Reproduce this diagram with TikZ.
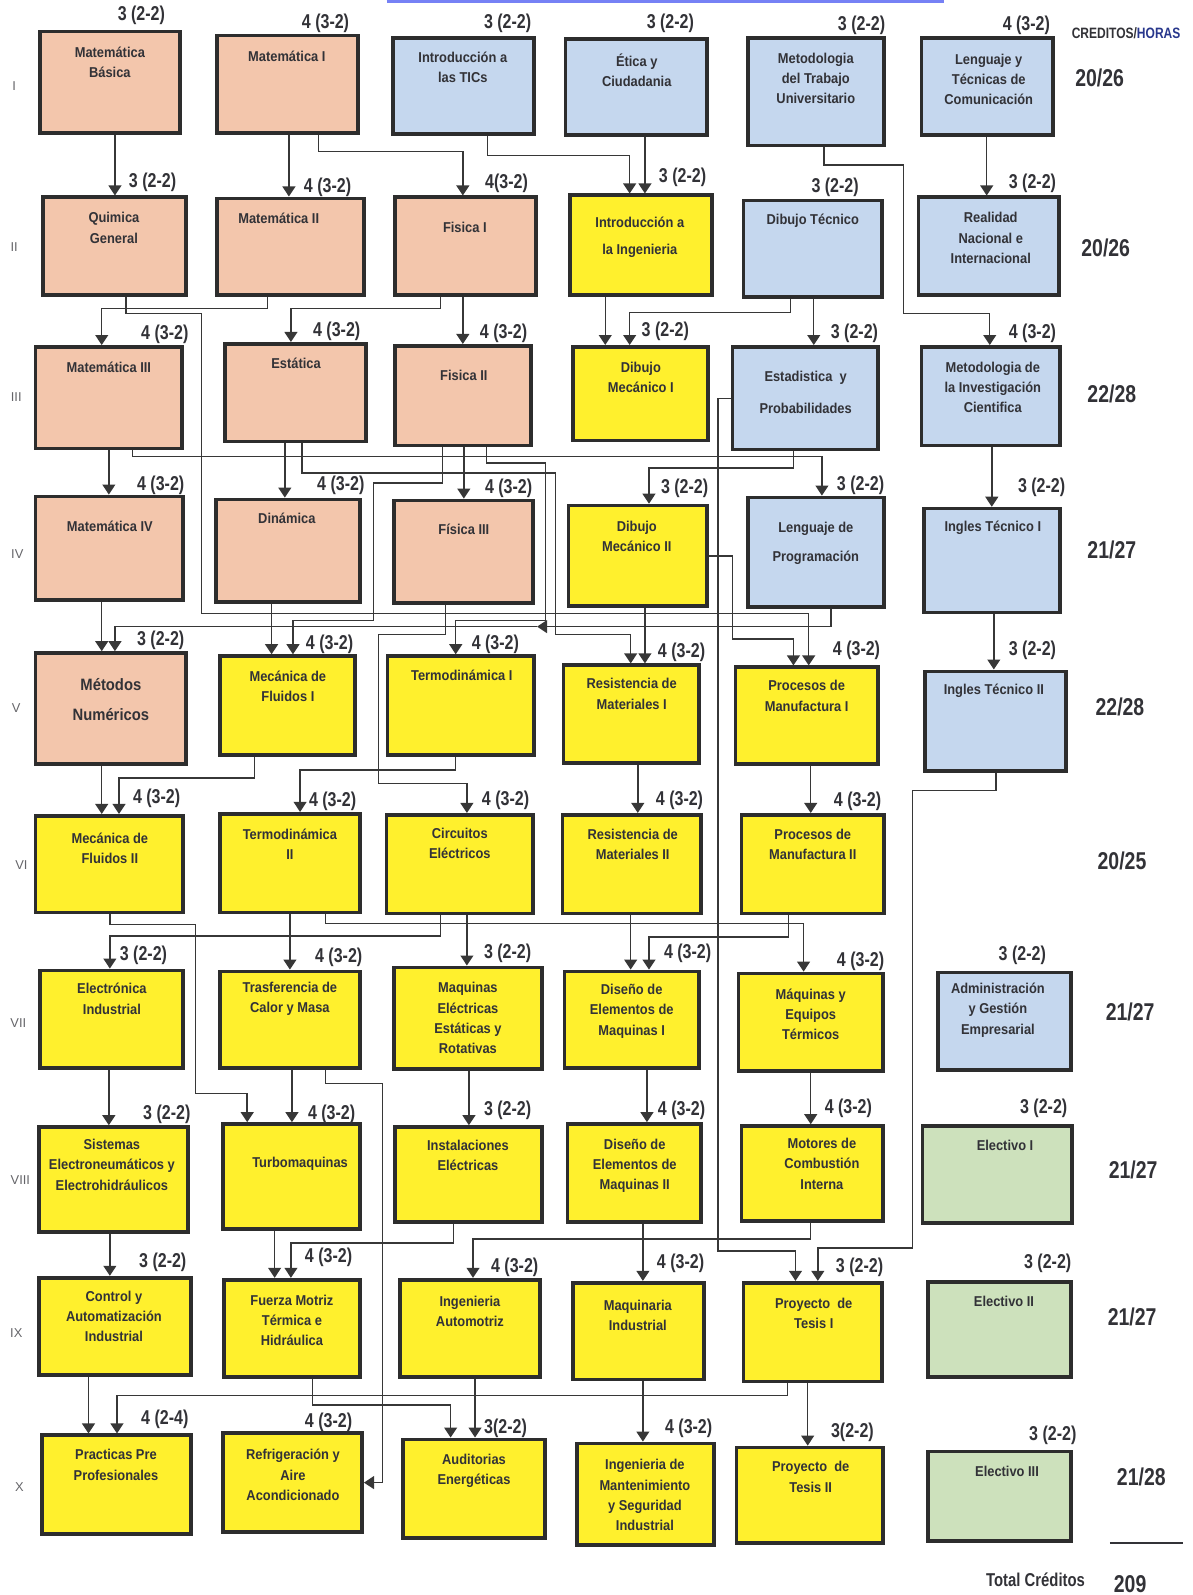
\documentclass[tikz,border=0pt]{standalone}
\usepackage{fontspec}
\setmainfont{Liberation Sans}
\newfontfamily\narrowa[FakeStretch=0.9]{Liberation Sans}
\newfontfamily\narrowb[FakeStretch=0.8]{Liberation Sans}
\usetikzlibrary{arrows.meta,fit}
\definecolor{fillpeach}{RGB}{243,198,172}
\definecolor{fillblue}{RGB}{197,215,238}
\definecolor{fillyellow}{RGB}{255,240,45}
\definecolor{fillgreen}{RGB}{205,225,188}
\definecolor{boxline}{RGB}{45,45,45}
\definecolor{wirecolor}{RGB}{55,55,55}
\definecolor{ink}{RGB}{50,50,55}
\definecolor{horasblue}{RGB}{40,55,140}
\tikzstyle{course} = [rectangle, draw=boxline, line width=2.6pt, inner sep=0pt]
\tikzstyle{basic} = [course, fill=fillpeach]
\tikzstyle{general} = [course, fill=fillblue]
\tikzstyle{speciality} = [course, fill=fillyellow]
\tikzstyle{elective} = [course, fill=fillgreen]
\tikzstyle{subjtext} = [text=ink, align=center, inner sep=0pt, font=\narrowa\bfseries\fontsize{10}{14.2}\selectfont]
\tikzstyle{credtext} = [text=ink, inner sep=0pt, font=\narrowb\bfseries\fontsize{14}{16}\selectfont]
\tikzstyle{sumtext} = [text=ink, inner sep=0pt, font=\narrowb\bfseries\fontsize{17}{20}\selectfont]
\tikzstyle{semtext} = [text=ink!75, inner sep=0pt, font=\fontsize{9}{10}\selectfont]
\tikzstyle{arrow} = [draw=wirecolor, line width=1pt, -{Triangle[width=9pt,length=7pt]}]
\tikzstyle{wire} = [draw=wirecolor, line width=1pt]

\begin{document}
\begin{tikzpicture}[x=0.025cm, y=-0.025cm]
    \useasboundingbox (0,0) rectangle (1172,1568);
    \draw [draw=fillblue!60!blue, line width=1.5pt] (380,1.5) -- (928,1.5);

    % Semestre I
    \node [basic, fit={(39,31) (177,131)}] (mb) {};
    \node [subjtext] (mbt) at (108,61) {Matemática\\Básica};
    \node [credtext] (mbc) at (139,15) {3 (2-2)};
    \node [basic, fit={(213,35) (352,131)}] (mi) {};
    \node [subjtext] (mit) at (282,55) {Matemática I};
    \node [credtext] (mic1) at (320,23) {4 (3-2)};
    \node [general, fit={(386,37) (525,132)}] (tics) {};
    \node [subjtext] (ticst) at (455,66) {Introducción a\\las TICs};
    \node [credtext] (ticsc) at (499,23) {3 (2-2)};
    \node [general, fit={(556,38) (695,133)}] (etica) {};
    \node [subjtext] (eticat) at (626,69) {Ética y\\Ciudadania};
    \node [credtext] (eticac) at (659,23) {3 (2-2)};
    \node [general, fit={(735,37) (869,143)}] (mtu) {};
    \node [subjtext] (mtut) at (802,77) {Metodologia\\del Trabajo\\Universitario};
    \node [credtext] (mtuc) at (847,25) {3 (2-2)};
    \node [general, fit={(906,37) (1035,133)}] (ltc) {};
    \node [subjtext] (ltct) at (972,78) {Lenguaje y\\Técnicas de\\Comunicación};
    \node [credtext] (ltcc) at (1009,25) {4 (3-2)};

    % Semestre II
    \node [basic, fit={(42,194) (183,290)}] (qg) {};
    \node [subjtext] (qgt) at (112,224) {Quimica\\General};
    \node [credtext] (qgc) at (150,179) {3 (2-2)};
    \node [basic, fit={(213,195) (358,290)}] (mii) {};
    \node [subjtext] (miit) at (274,215) {Matemática II};
    \node [credtext] (miic) at (322,184) {4 (3-2)};
    \node [basic, fit={(388,194) (527,290)}] (fi) {};
    \node [subjtext] (fit) at (457,224) {Fisica I};
    \node [credtext] (fic) at (498,180) {4(3-2)};
    \node [speciality, fit={(560,192) (700,290)}] (ii) {};
    \node [subjtext] (iit) at (629,233) {Introducción a\\[5pt]la Ingenieria};
    \node [credtext] (iic) at (671,174) {3 (2-2)};
    \node [general, fit={(731,197) (867,292)}] (dt) {};
    \node [subjtext] (dtt) at (799,217) {Dibujo Técnico};
    \node [credtext] (dtc) at (821,184) {3 (2-2)};
    \node [general, fit={(903,194) (1041,290)}] (rni) {};
    \node [subjtext] (rnit) at (974,234) {Realidad\\Nacional e\\Internacional};
    \node [credtext] (rnic) at (1015,180) {3 (2-2)};

    % Semestre III
    \node [basic, fit={(35,341) (179,441)}] (miii) {};
    \node [subjtext] (miiit) at (107,361) {Matemática III};
    \node [credtext] (miiic) at (162,329) {4 (3-2)};
    \node [basic, fit={(221,338) (360,434)}] (est) {};
    \node [subjtext] (estt) at (291,357) {Estática};
    \node [credtext] (estc) at (331,326) {4 (3-2)};
    \node [basic, fit={(388,340) (522,438)}] (fii) {};
    \node [subjtext] (fiit) at (456,369) {Fisica II};
    \node [credtext] (fiic) at (495,328) {4 (3-2)};
    \node [speciality, fit={(563,341) (696,433)}] (dm1) {};
    \node [subjtext] (dm1t) at (630,371) {Dibujo\\Mecánico I};
    \node [credtext] (dm1c) at (654,326) {3 (2-2)};
    \node [general, fit={(720,341) (863,442)}] (eyp) {};
    \node [subjtext] (eypt) at (792,386) {Estadistica\ \ y\\[8pt]Probabilidades};
    \node [credtext] (eypc) at (840,328) {3 (2-2)};
    \node [general, fit={(906,341) (1042,438)}] (mic) {};
    \node [subjtext] (mict) at (976,381) {Metodologia de\\la Investigación\\Cientifica};
    \node [credtext] (micc) at (1015,328) {4 (3-2)};

    % Semestre IV
    \node [basic, fit={(35,488) (180,590)}] (miv) {};
    \node [subjtext] (mivt) at (108,517) {Matemática IV};
    \node [credtext] (mivc) at (158,477) {4 (3-2)};
    \node [basic, fit={(212,491) (354,592)}] (din) {};
    \node [subjtext] (dint) at (282,510) {Dinámica};
    \node [credtext] (dinc) at (335,477) {4 (3-2)};
    \node [basic, fit={(387,492) (524,593)}] (fiii) {};
    \node [subjtext] (fiiit) at (456,520) {Física III};
    \node [credtext] (fiiic) at (500,480) {4 (3-2)};
    \node [speciality, fit={(559,497) (695,596)}] (dm2) {};
    \node [subjtext] (dm2t) at (626,527) {Dibujo\\Mecánico II};
    \node [credtext] (dm2c) at (673,480) {3 (2-2)};
    \node [general, fit={(735,489) (869,597)}] (lp) {};
    \node [subjtext] (lpt) at (802,534) {Lenguaje de\\[6pt]Programación};
    \node [credtext] (lpc) at (846,477) {3 (2-2)};
    \node [general, fit={(908,500) (1042,602)}] (it1) {};
    \node [subjtext] (it1t) at (976,519) {Ingles Técnico I};
    \node [credtext] (it1c) at (1024,479) {3 (2-2)};

    % Semestre V
    \node [basic, fit={(35,642) (183,751)}] (mn) {};
    \node [subjtext, font=\narrowa\bfseries\fontsize{11.5}{15}\selectfont] (mnt) at (109,688) {Métodos\\[6pt]Numéricos};
    \node [credtext] (mnc) at (158,629) {3 (2-2)};
    \node [speciality, fit={(216,645) (349,742)}] (mf1) {};
    \node [subjtext] (mf1t) at (283,675) {Mecánica de\\Fluidos I};
    \node [credtext] (mf1c) at (324,633) {4 (3-2)};
    \node [speciality, fit={(381,645) (525,742)}] (ti) {};
    \node [subjtext] (tit) at (454,664) {Termodinámica I};
    \node [credtext] (tic) at (487,633) {4 (3-2)};
    \node [speciality, fit={(554,654) (687,750)}] (rm1) {};
    \node [subjtext] (rm1t) at (621,682) {Resistencia de\\Materiales I};
    \node [credtext] (rm1c) at (670,641) {4 (3-2)};
    \node [speciality, fit={(723,656) (863,751)}] (pm1) {};
    \node [subjtext] (pm1t) at (793,684) {Procesos de\\Manufactura I};
    \node [credtext] (pm1c) at (842,639) {4 (3-2)};
    \node [general, fit={(909,660) (1048,758)}] (it2) {};
    \node [subjtext] (it2t) at (977,679) {Ingles Técnico II};
    \node [credtext] (it2c) at (1015,639) {3 (2-2)};

    % Semestre VI
    \node [speciality, fit={(35,802) (180,897)}] (mf2) {};
    \node [subjtext] (mf2t) at (108,834) {Mecánica de\\Fluidos II};
    \node [credtext] (mf2c) at (154,785) {4 (3-2)};
    \node [speciality, fit={(216,800) (354,897)}] (tii) {};
    \node [subjtext] (tiit) at (285,830) {Termodinámica\\II};
    \node [credtext] (tiic) at (327,788) {4 (3-2)};
    \node [speciality, fit={(380,801) (524,898)}] (ce) {};
    \node [subjtext] (cet) at (452,829) {Circuitos\\Eléctricos};
    \node [credtext] (cec) at (497,787) {4 (3-2)};
    \node [speciality, fit={(553,801) (689,898)}] (rm2) {};
    \node [subjtext] (rm2t) at (622,830) {Resistencia de\\Materiales II};
    \node [credtext] (rm2c) at (668,787) {4 (3-2)};
    \node [speciality, fit={(729,801) (869,898)}] (pm2) {};
    \node [subjtext] (pm2t) at (799,830) {Procesos de\\Manufactura II};
    \node [credtext] (pm2c) at (843,788) {4 (3-2)};

    % Semestre VII
    \node [speciality, fit={(39,954) (180,1050)}] (ei) {};
    \node [subjtext] (eit) at (110,982) {Electrónica\\Industrial};
    \node [credtext] (eic) at (141,939) {3 (2-2)};
    \node [speciality, fit={(216,955) (354,1050)}] (tcm) {};
    \node [subjtext] (tcmt) at (285,982) {Trasferencia de\\Calor y Masa};
    \node [credtext] (tcmc) at (333,941) {4 (3-2)};
    \node [speciality, fit={(387,951) (533,1051)}] (meer) {};
    \node [subjtext] (meert) at (460,1001) {Maquinas\\Eléctricas\\Estáticas y\\Rotativas};
    \node [credtext] (meerc) at (499,937) {3 (2-2)};
    \node [speciality, fit={(555,955) (687,1050)}] (dem1) {};
    \node [subjtext] (dem1t) at (621,994) {Diseño de\\Elementos de\\Maquinas I};
    \node [credtext] (dem1c) at (676,937) {4 (3-2)};
    \node [speciality, fit={(726,957) (868,1053)}] (met) {};
    \node [subjtext] (mett) at (797,997) {Máquinas y\\Equipos\\Térmicos};
    \node [credtext] (metc) at (846,945) {4 (3-2)};
    \node [general, fit={(922,956) (1053,1052)}] (age) {};
    \node [subjtext] (aget) at (981,993) {Administración\\y Gestión\\Empresarial};
    \node [credtext] (agec) at (1005,939) {3 (2-2)};

    % Semestre VIII
    \node [speciality, fit={(38,1108) (185,1211)}] (see) {};
    \node [subjtext] (seet) at (110,1145) {Sistemas\\Electroneumáticos y\\Electrohidráulicos};
    \node [credtext] (seec) at (164,1095) {3 (2-2)};
    \node [speciality, fit={(219,1105) (354,1208)}] (tm) {};
    \node [subjtext] (tmt) at (295,1144) {Turbomaquinas};
    \node [credtext] (tmc) at (326,1095) {4 (3-2)};
    \node [speciality, fit={(388,1108) (533,1201)}] (ie) {};
    \node [subjtext] (iet) at (460,1136) {Instalaciones\\Eléctricas};
    \node [credtext] (iec) at (499,1092) {3 (2-2)};
    \node [speciality, fit={(558,1105) (689,1201)}] (dem2) {};
    \node [subjtext] (dem2t) at (624,1146) {Diseño de\\Elementos de\\Maquinas II};
    \node [credtext] (dem2c) at (670,1092) {4 (3-2)};
    \node [speciality, fit={(729,1107) (868,1200)}] (mci) {};
    \node [subjtext] (mcit) at (808,1144) {Motores de\\Combustión\\Interna};
    \node [credtext] (mcic) at (834,1090) {4 (3-2)};
    \node [elective, fit={(907,1107) (1054,1202)}] (el1) {};
    \node [subjtext] (el1t) at (988,1126) {Electivo I};
    \node [credtext] (el1c) at (1026,1090) {3 (2-2)};

    % Semestre IX
    \node [speciality, fit={(38,1256) (188,1352)}] (cai) {};
    \node [subjtext] (cait) at (112,1294) {Control y\\Automatización\\Industrial};
    \node [credtext] (caic) at (160,1241) {3 (2-2)};
    \node [speciality, fit={(220,1258) (354,1354)}] (fmth) {};
    \node [subjtext] (fmtht) at (287,1298) {Fuerza Motriz\\Térmica e\\Hidráulica};
    \node [credtext] (fmthc) at (323,1236) {4 (3-2)};
    \node [speciality, fit={(393,1258) (531,1354)}] (ia) {};
    \node [subjtext] (iat) at (462,1289) {Ingenieria\\Automotriz};
    \node [credtext] (iac) at (506,1246) {4 (3-2)};
    \node [speciality, fit={(563,1261) (692,1356)}] (maqi) {};
    \node [subjtext] (maqit) at (627,1293) {Maquinaria\\Industrial};
    \node [credtext] (maqic) at (669,1242) {4 (3-2)};
    \node [speciality, fit={(731,1261) (867,1358)}] (pt1) {};
    \node [subjtext] (pt1t) at (800,1291) {Proyecto\ \ de\\Tesis I};
    \node [credtext] (pt1c) at (845,1246) {3 (2-2)};
    \node [elective, fit={(912,1260) (1053,1354)}] (el2) {};
    \node [subjtext] (el2t) at (987,1279) {Electivo II};
    \node [credtext] (el2c) at (1030,1242) {3 (2-2)};

    % Semestre X
    \node [speciality, fit={(41,1411) (188,1508)}] (ppp) {};
    \node [subjtext] (pppt) at (114,1440) {Practicas Pre\\Profesionales};
    \node [credtext] (pppc) at (162,1395) {4 (2-4)};
    \node [speciality, fit={(219,1409) (356,1506)}] (raa) {};
    \node [subjtext] (raat) at (288,1450) {Refrigeración y\\Aire\\Acondicionado};
    \node [credtext] (raac) at (323,1398) {4 (3-2)};
    \node [speciality, fit={(396,1415) (536,1512)}] (ae) {};
    \node [subjtext] (aet) at (466,1446) {Auditorias\\Energéticas};
    \node [credtext] (aec) at (497,1404) {3(2-2)};
    \node [speciality, fit={(567,1419) (702,1519)}] (imsi) {};
    \node [subjtext] (imsit) at (634,1470) {Ingenieria de\\Mantenimiento\\y Seguridad\\Industrial};
    \node [credtext] (imsic) at (677,1404) {4 (3-2)};
    \node [speciality, fit={(724,1423) (868,1517)}] (pt2) {};
    \node [subjtext] (pt2t) at (797,1452) {Proyecto\ \ de\\Tesis II};
    \node [credtext] (pt2c) at (838,1408) {3(2-2)};
    \node [elective, fit={(912,1427) (1053,1515)}] (el3) {};
    \node [subjtext] (el3t) at (990,1446) {Electivo III};
    \node [credtext] (el3c) at (1035,1411) {3 (2-2)};

    % Semestres y creditos
    \node [semtext] (s1) at (14,85) {I};
    \node [semtext] (s2) at (14,243) {II};
    \node [semtext] (s3) at (16,390) {III};
    \node [semtext] (s4) at (17,545) {IV};
    \node [semtext] (s5) at (16,696) {V};
    \node [semtext] (s6) at (21,850) {VI};
    \node [semtext] (s7) at (18,1006) {VII};
    \node [semtext] (s8) at (20,1160) {VIII};
    \node [semtext] (s9) at (16,1310) {IX};
    \node [semtext] (s10) at (19,1462) {X};
    \node [text=ink, inner sep=0pt, font=\narrowb\bfseries\fontsize{10.5}{12}\selectfont] (head) at (1107,33) {CREDITOS/\textcolor{horasblue}{HORAS}};
    \node [sumtext] (t1) at (1081,77) {20/26};
    \node [sumtext] (t2) at (1087,244) {20/26};
    \node [sumtext] (t3) at (1093,387) {22/28};
    \node [sumtext] (t4) at (1093,541) {21/27};
    \node [sumtext] (t5) at (1101,695) {22/28};
    \node [sumtext] (t6) at (1103,846) {20/25};
    \node [sumtext] (t7) at (1111,995) {21/27};
    \node [sumtext] (t8) at (1114,1150) {21/27};
    \node [sumtext] (t9) at (1113,1295) {21/27};
    \node [sumtext] (t10) at (1122,1452) {21/28};
    \draw [draw=ink, line width=1.5pt] (1091,1517) -- (1163,1517);
    \node [text=ink, inner sep=0pt, font=\narrowb\bfseries\fontsize{13}{15}\selectfont] (totl) at (1018,1553) {Total Créditos};
    \node [sumtext] (tot) at (1111,1557) {209};

    % I -> II
    \draw [arrow] (mb.south -| 113,0) -- (qg.north -| 113,0);
    \draw [arrow] (mi.south -| 284,0) -- (mii.north -| 284,0);
    \draw [arrow] (mi.south -| 313,0) -- (313,149) -- (455,149) -- (fi.north -| 455,0);
    \draw [arrow] (tics.south -| 479,0) -- (479,153) -- (619,153) -- (ii.north -| 619,0);
    \draw [arrow] (etica.south -| 634,0) -- (ii.north -| 634,0);
    \draw [arrow] (mtu.south -| 810,0) -- (810,162) -- (888,162) -- (888,308) -- (973,308) -- (mic.north -| 973,0);
    \draw [arrow] (ltc.south -| 970,0) -- (rni.north -| 970,0);
    % II -> III
    \draw [arrow] (mii.south -| 263,0) -- (263,303) -- (100,303) -- (miii.north -| 100,0);
    \draw [arrow] (qg.south -| 124,0) -- (124,308) -- (198,308) -- (198,603) -- (795,603) -- (pm1.north -| 795,0);
    \draw [arrow] (fi.south -| 433,0) -- (433,303) -- (286,303) -- (est.north -| 286,0);
    \draw [arrow] (fi.south -| 455,0) -- (fii.north -| 455,0);
    \draw [arrow] (ii.south -| 595,0) -- (dm1.north -| 595,0);
    \draw [arrow] (dt.south -| 777,0) -- (777,307) -- (619,307) -- (dm1.north -| 619,0);
    \draw [arrow] (dt.south -| 800,0) -- (eyp.north -| 800,0);
    % III -> IV
    \draw [arrow] (miii.south -| 107,0) -- (miv.north -| 107,0);
    \draw [arrow] (miii.south -| 130,0) -- (130,449) -- (808,449) -- (lp.north -| 808,0);
    \draw [arrow] (est.south -| 280,0) -- (din.north -| 280,0);
    \draw [arrow] (est.south -| 297,0) -- (297,465) -- (546,465) -- (546,624) -- (620,624) -- (rm1.north -| 620,0);
    \draw [arrow] (fii.south -| 435,0) -- (435,475) -- (367,475) -- (367,610) -- (288,610) -- (mf1.north -| 288,0);
    \draw [arrow] (fii.south -| 456,0) -- (fiii.north -| 456,0);
    \draw [arrow] (fii.south -| 478,0) -- (478,455) -- (536,455) -- (536,610) -- (448,610) -- (ti.north -| 448,0);
    \draw [arrow] (eyp.south -| 780,0) -- (780,460) -- (638,460) -- (dm2.north -| 638,0);
    \draw [arrow] (eyp.west) -| (706,1230) -- (782,1230) -- (pt1.north -| 782,0);
    \draw [arrow] (mic.south -| 975,0) -- (it1.north -| 975,0);
    % IV -> V
    \coordinate (tipmark) at (528,616);
    \draw [arrow] (miv.south -| 100,0) -- (mn.north -| 100,0);
    \draw [arrow] (lp.south -| 817,0) -- (817,616) -- (tipmark);
    \draw [arrow] (tipmark) -- (113,616) -- (mn.north -| 113,0);
    \draw [arrow] (din.south -| 267,0) -- (mf1.north -| 267,0);
    \draw [arrow] (fiii.south -| 438,0) -- (438,624) -- (372,624) -- (372,770) -- (459,770) -- (ce.north -| 459,0);
    \draw [arrow] (dm2.south -| 634,0) -- (rm1.north -| 634,0);
    \draw [arrow] (dm2.east) -| (720,628) -- (780,628) -- (pm1.north -| 780,0);
    \draw [arrow] (it1.south -| 977,0) -- (it2.north -| 977,0);
    \draw [arrow] (it2.south -| 979,0) -- (979,777) -- (897,777) -- (897,1227) -- (804,1227) -- (pt1.north -| 804,0);
    % V -> VI
    \draw [arrow] (mn.south -| 100,0) -- (mf2.north -| 100,0);
    \draw [arrow] (mf1.south -| 250,0) -- (250,765) -- (117,765) -- (mf2.north -| 117,0);
    \draw [arrow] (ti.south -| 448,0) -- (448,757) -- (295,757) -- (tii.north -| 295,0);
    \draw [arrow] (rm1.south -| 627,0) -- (rm2.north -| 627,0);
    \draw [arrow] (pm1.south -| 797,0) -- (pm2.north -| 797,0);
    % VI -> VII
    \draw [arrow] (mf2.south -| 108,0) -- (108,909) -- (192,909) -- (192,1075) -- (243,1075) -- (tm.north -| 243,0);
    \draw [arrow] (ce.south -| 433,0) -- (433,920) -- (108,920) -- (ei.north -| 108,0);
    \draw [arrow] (tii.south -| 285,0) -- (tcm.north -| 285,0);
    \draw [arrow] (tii.south -| 320,0) -- (320,908) -- (790,908) -- (met.north -| 790,0);
    \draw [arrow] (ce.south -| 459,0) -- (meer.north -| 459,0);
    \draw [arrow] (rm2.south -| 620,0) -- (dem1.north -| 620,0);
    \draw [arrow] (pm2.south -| 775,0) -- (775,921) -- (638,921) -- (dem1.north -| 638,0);
    % VII -> VIII
    \draw [arrow] (ei.south -| 107,0) -- (see.north -| 107,0);
    \draw [arrow] (tcm.south -| 287,0) -- (tm.north -| 287,0);
    \draw [arrow] (tcm.south -| 320,0) -- (320,1065) -- (376,1065) |- (raa.east);
    \draw [arrow] (meer.south -| 461,0) -- (ie.north -| 461,0);
    \draw [arrow] (dem1.south -| 636,0) -- (dem2.north -| 636,0);
    \draw [arrow] (met.south -| 797,0) -- (mci.north -| 797,0);
    % VIII -> IX
    \draw [arrow] (see.south -| 108,0) -- (cai.north -| 108,0);
    \draw [arrow] (tm.south -| 270,0) -- (fmth.north -| 270,0);
    \draw [arrow] (ie.south -| 446,0) -- (446,1222) -- (286,1222) -- (fmth.north -| 286,0);
    \draw [arrow] (mci.south -| 797,0) -- (797,1218) -- (465,1218) -- (ia.north -| 465,0);
    \draw [arrow] (dem2.south -| 632,0) -- (maqi.north -| 632,0);
    % IX -> X
    \draw [arrow] (cai.south -| 87,0) -- (ppp.north -| 87,0);
    \draw [arrow] (pt1.south -| 774,0) -- (774,1372) -- (115,1372) -- (ppp.north -| 115,0);
    \draw [arrow] (fmth.south -| 307,0) -- (307,1381) -- (443,1381) -- (ae.north -| 443,0);
    \draw [arrow] (ia.south -| 467,0) -- (ae.north -| 467,0);
    \draw [arrow] (maqi.south -| 632,0) -- (imsi.north -| 632,0);
    \draw [arrow] (pt1.south -| 794,0) -- (pt2.north -| 794,0);
\end{tikzpicture}
\end{document}
